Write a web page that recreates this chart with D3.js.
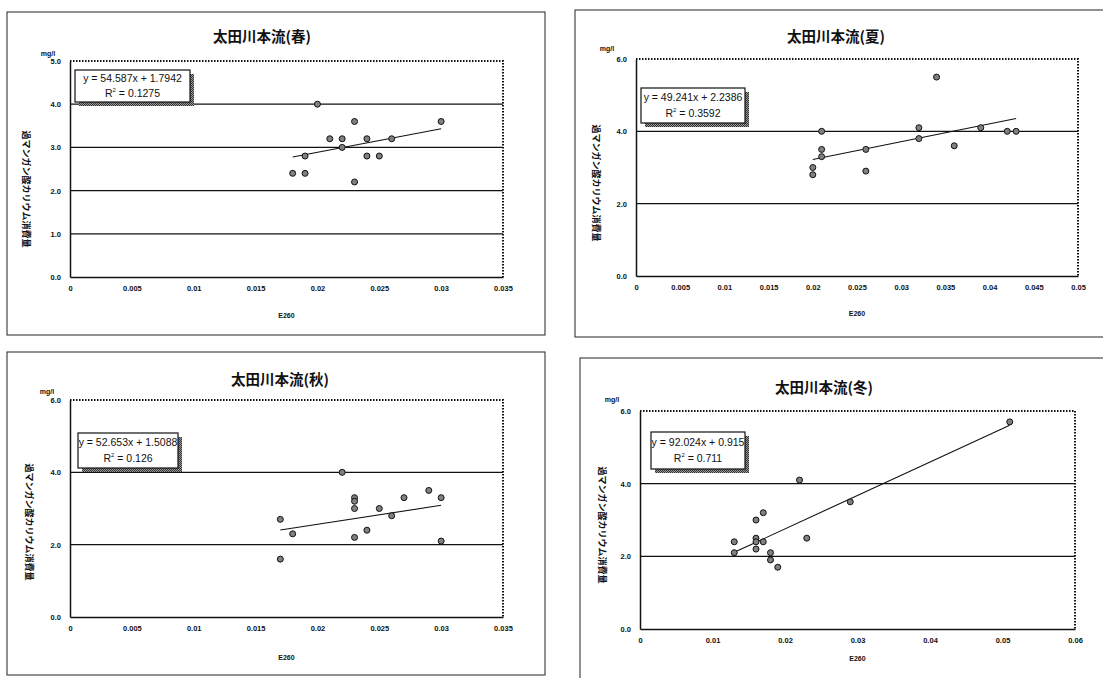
<!DOCTYPE html>
<html>
<head>
<meta charset="utf-8">
<script src="https://cdn.jsdelivr.net/npm/d3@7"></script>
<style>
  html, body { margin: 0; padding: 0; background: #fff; }
  svg { display: block; }
  .title { font-family: "Noto Sans CJK JP", sans-serif; font-weight: 700; font-size: 14.5px; fill: #111; }
  .tick text { font-family: "Liberation Sans", Arial, sans-serif; font-weight: 700; font-size: 7.5px; fill: #111; }
  .ylab { font-family: "Noto Sans CJK JP", sans-serif; font-weight: 700; font-size: 9px; fill: #111; }
  .xlab, .unit { font-family: "Liberation Sans", Arial, sans-serif; font-weight: 700; font-size: 7px; fill: #111; }
  .eq { font-family: "Liberation Sans Narrow", "Liberation Sans", Arial, sans-serif; font-size: 10.5px; fill: #111; }
</style>
</head>
<body>
<svg id="chart" width="1103" height="678"></svg>
<script>
// Potassium permanganate consumption (mg/l) vs. E260 absorbance, Ota River main stream, by season

const seasonTitles = ["太田川本流(春)", "太田川本流(夏)", "太田川本流(秋)", "太田川本流(冬)"];

const springE260   = [0.018, 0.019, 0.019, 0.020, 0.021, 0.022, 0.022, 0.023, 0.023, 0.024, 0.024, 0.025, 0.026, 0.030];
const springKMnO4  = [2.4, 2.4, 2.8, 4.0, 3.2, 3.2, 3.0, 3.6, 2.2, 3.2, 2.8, 2.8, 3.2, 3.6];

const summerE260   = [0.020, 0.020, 0.021, 0.021, 0.021, 0.026, 0.026, 0.032, 0.032, 0.034, 0.036, 0.039, 0.042, 0.043];
const summerKMnO4  = [3.0, 2.8, 4.0, 3.5, 3.3, 3.5, 2.9, 4.1, 3.8, 5.5, 3.6, 4.1, 4.0, 4.0];

const autumnE260   = [0.017, 0.017, 0.018, 0.022, 0.023, 0.023, 0.023, 0.023, 0.024, 0.025, 0.026, 0.027, 0.029, 0.030, 0.030];
const autumnKMnO4  = [2.7, 1.6, 2.3, 4.0, 3.3, 3.2, 3.0, 2.2, 2.4, 3.0, 2.8, 3.3, 3.5, 3.3, 2.1];

const winterE260   = [0.013, 0.013, 0.016, 0.016, 0.016, 0.016, 0.017, 0.017, 0.018, 0.018, 0.019, 0.022, 0.023, 0.029, 0.051];
const winterKMnO4  = [2.4, 2.1, 3.0, 2.5, 2.4, 2.2, 3.2, 2.4, 2.1, 1.9, 1.7, 4.1, 2.5, 3.5, 5.7];

// Linear trend lines (slope, intercept) and their labels
const trendSlopes     = [54.587, 49.241, 52.653, 92.024];
const trendIntercepts = [1.7942, 2.2386, 1.5088, 0.915];
const trendEquations  = ["y = 54.587x + 1.7942", "y = 49.241x + 2.2386", "y = 52.653x + 1.5088", "y = 92.024x + 0.915"];
const trendR2         = ["0.1275", "0.3592", "0.126", "0.711"];

// Axis ticks
const xTicks035 = [0, 0.005, 0.01, 0.015, 0.02, 0.025, 0.03, 0.035];
const xLabels035 = ["0", "0.005", "0.01", "0.015", "0.02", "0.025", "0.03", "0.035"];
const xTicks05 = [0, 0.005, 0.01, 0.015, 0.02, 0.025, 0.03, 0.035, 0.04, 0.045, 0.05];
const xLabels05 = ["0", "0.005", "0.01", "0.015", "0.02", "0.025", "0.03", "0.035", "0.04", "0.045", "0.05"];
const xTicks06 = [0, 0.01, 0.02, 0.03, 0.04, 0.05, 0.06];
const xLabels06 = ["0", "0.01", "0.02", "0.03", "0.04", "0.05", "0.06"];
const yTicks5 = [0, 1, 2, 3, 4, 5];
const yLabels5 = ["0.0", "1.0", "2.0", "3.0", "4.0", "5.0"];
const yTicks6 = [0, 2, 4, 6];
const yLabels6 = ["0.0", "2.0", "4.0", "6.0"];

const yAxisTitle = "過マンガン酸カリウム消費量";
const xAxisTitle = "E260";
const unitLabel = "mg/l";

// Panel geometry
const panels = [
  { title: 0, xs: springE260, ys: springKMnO4, xt: xTicks035, xl: xLabels035, yt: yTicks5, yl: yLabels5,
    frame: [7, 12, 538, 323], plot: [70, 61, 503, 277], titleAt: [262, 38], box: [75, 70, 115, 32],
    unitAt: [48, 56], ylabAt: [25, 189], xlabY: 316 },
  { title: 1, xs: summerE260, ys: summerKMnO4, xt: xTicks05, xl: xLabels05, yt: yTicks6, yl: yLabels6,
    frame: [575, 10, 540, 327], plot: [636, 59, 1078, 276], titleAt: [836, 38], box: [641, 88, 104, 35],
    unitAt: [607, 51], ylabAt: [595, 183], xlabY: 314 },
  { title: 2, xs: autumnE260, ys: autumnKMnO4, xt: xTicks035, xl: xLabels035, yt: yTicks6, yl: yLabels6,
    frame: [7, 352, 538, 323], plot: [70, 400, 503, 617], titleAt: [280, 381], box: [78, 433, 100, 35],
    unitAt: [47, 394], ylabAt: [28, 522], xlabY: 658 },
  { title: 3, xs: winterE260, ys: winterKMnO4, xt: xTicks06, xl: xLabels06, yt: yTicks6, yl: yLabels6,
    frame: [580, 358, 535, 330], plot: [640, 411, 1075, 629], titleAt: [824, 389], box: [651, 432, 94, 37],
    unitAt: [612, 402], ylabAt: [601, 525], xlabY: 659 }
];

const svg = d3.select("#chart");

// Hatched fill for the label shadow
const defs = svg.append("defs");
const pat = defs.append("pattern").attr("id", "hatch").attr("patternUnits", "userSpaceOnUse")
  .attr("width", 2).attr("height", 2);
pat.append("rect").attr("width", 2).attr("height", 2).attr("fill", "#9a9a9a");
pat.append("rect").attr("width", 1).attr("height", 1).attr("fill", "#333");
pat.append("rect").attr("x", 1).attr("y", 1).attr("width", 1).attr("height", 1).attr("fill", "#333");

panels.forEach((p, i) => {
  const g = svg.append("g");
  const [fx, fy, fw, fh] = p.frame;
  g.append("rect").attr("x", fx).attr("y", fy).attr("width", fw).attr("height", fh)
    .attr("fill", "none").attr("stroke", "#222").attr("stroke-width", 1);

  const [x0, y0, x1, y1] = p.plot;
  const x = d3.scaleLinear().domain([p.xt[0], p.xt[p.xt.length - 1]]).range([x0, x1]);
  const y = d3.scaleLinear().domain([p.yt[0], p.yt[p.yt.length - 1]]).range([y1, y0]);

  // Gridlines
  g.append("g").selectAll("line").data(p.yt.slice(1, -1)).join("line")
    .attr("x1", x0).attr("x2", x1).attr("y1", d => y(d)).attr("y2", d => y(d))
    .attr("stroke", "#111").attr("stroke-width", 1.3);

  // Plot area border: dotted top/right
  g.append("path").attr("d", `M${x0},${y0}H${x1}V${y1}`)
    .attr("fill", "none").attr("stroke", "#111").attr("stroke-width", 2).attr("stroke-dasharray", "1.5,1.5");

  // Axes
  const xAxis = d3.axisBottom(x).tickValues(p.xt).tickFormat((d, k) => p.xl[k]).tickSize(0).tickPadding(9);
  const gx = g.append("g").attr("transform", `translate(0,${y1})`).call(xAxis);
  gx.select(".domain").attr("stroke", "#111").attr("stroke-width", 1.5);
  const yAxis = d3.axisLeft(y).tickValues(p.yt).tickFormat((d, k) => p.yl[k]).tickSize(0).tickPadding(9);
  const gy = g.append("g").attr("transform", `translate(${x0},0)`).call(yAxis);
  gy.select(".domain").attr("stroke", "#111").attr("stroke-width", 1.5);

  // Titles
  g.append("text").attr("class", "title").attr("x", p.titleAt[0]).attr("y", p.titleAt[1])
    .attr("text-anchor", "middle").attr("dominant-baseline", "middle").text(seasonTitles[p.title]);
  g.append("text").attr("class", "unit").attr("x", p.unitAt[0]).attr("y", p.unitAt[1])
    .attr("text-anchor", "middle").text(unitLabel);
  g.append("text").attr("class", "xlab").attr("x", (x0 + x1) / 2).attr("y", p.xlabY)
    .attr("text-anchor", "middle").attr("dominant-baseline", "middle").text(xAxisTitle);
  g.append("text").attr("class", "ylab")
    .attr("transform", `translate(${p.ylabAt[0]},${p.ylabAt[1]}) rotate(90)`)
    .attr("text-anchor", "middle").attr("dominant-baseline", "middle").text(yAxisTitle);

  // Trend line over the data range
  const xmin = d3.min(p.xs), xmax = d3.max(p.xs);
  const a = trendSlopes[i], b = trendIntercepts[i];
  g.append("line").attr("x1", x(xmin)).attr("y1", y(a * xmin + b))
    .attr("x2", x(xmax)).attr("y2", y(a * xmax + b))
    .attr("stroke", "#111").attr("stroke-width", 1.1);

  // Points
  g.append("g").selectAll("circle").data(p.xs.map((v, k) => [v, p.ys[k]])).join("circle")
    .attr("cx", d => x(d[0])).attr("cy", d => y(d[1])).attr("r", 3)
    .attr("fill", "#808080").attr("stroke", "#111").attr("stroke-width", 1);

  // Trend label box with shadow
  const [bx, by, bw, bh] = p.box;
  g.append("rect").attr("x", bx + 4).attr("y", by + 4).attr("width", bw).attr("height", bh)
    .attr("fill", "url(#hatch)");
  g.append("rect").attr("x", bx).attr("y", by).attr("width", bw).attr("height", bh)
    .attr("fill", "#fff").attr("stroke", "#111").attr("stroke-width", 1.2);
  g.append("text").attr("class", "eq").attr("x", bx + bw / 2).attr("y", by + bh * 0.3)
    .attr("text-anchor", "middle").attr("dominant-baseline", "middle").text(trendEquations[i]);
  const r2 = g.append("text").attr("class", "eq").attr("x", bx + bw / 2).attr("y", by + bh * 0.74)
    .attr("text-anchor", "middle").attr("dominant-baseline", "middle");
  r2.append("tspan").text("R");
  r2.append("tspan").attr("dy", -4).attr("font-size", "6px").text("2");
  r2.append("tspan").attr("dy", 4).text(" = " + trendR2[i]);
});
</script>
</body>
</html>
